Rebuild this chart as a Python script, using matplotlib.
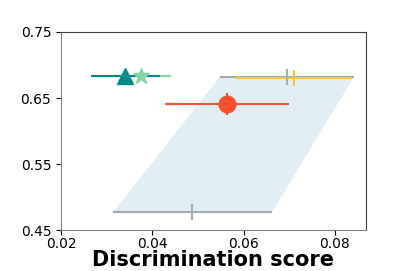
import numpy as np
import matplotlib.pyplot as plt

# discrimination score (x), second metric (y), x error, y error
labels = ["green", "teal", "gray_top", "yellow", "red", "gray_bottom"]
x_vals = [0.0376, 0.0341, 0.0695, 0.0710, 0.0563, 0.0488]
y_vals = [0.684, 0.684, 0.682, 0.680, 0.641, 0.477]
x_errs = [0.0066, 0.0076, 0.0147, 0.0128, 0.0136, 0.0174]
y_errs = [0.0, 0.0, 0.0, 0.0, 0.017, 0.0]

colors = ["#85d6a6", "#008b8b", "#a3acb4", "#f7c548", "#fc5130", "#a3acb4"]
markers = ["*", "^", "|", "|", "o", "|"]
sizes = [12, 12, 11, 12, 12, 12]

fig = plt.figure(figsize=(4.07, 2.71), dpi=100)
ax = fig.add_axes([0.150, 0.151, 0.749, 0.731])

# shaded region between the two gray bars
top, bot = 2, 5
poly_x = [x_vals[top] - x_errs[top], x_vals[top] + x_errs[top],
          x_vals[bot] + x_errs[bot], x_vals[bot] - x_errs[bot]]
poly_y = [y_vals[top], y_vals[top], y_vals[bot], y_vals[bot]]
ax.fill(poly_x, poly_y, color="#e1eef4", lw=0, zorder=1)

for i in range(len(labels)):
    marker_line, _, _ = ax.errorbar(x_vals[i], y_vals[i], xerr=x_errs[i],
                                    yerr=y_errs[i] if y_errs[i] else None,
                                    fmt=markers[i], color=colors[i], ms=sizes[i],
                                    mew=1.5 if markers[i] == "|" else 1,
                                    elinewidth=1.5, capsize=0, zorder=3)
    marker_line.set_zorder(4)

ax.set_xlim(0.02, 0.0868)
ax.set_ylim(0.45, 0.75)
ax.set_xticks([0.02, 0.04, 0.06, 0.08])
ax.set_yticks([0.45, 0.55, 0.65, 0.75])
ax.tick_params(labelsize=10)
ax.tick_params(axis="x", pad=1.5)

for side in ["left", "bottom"]:
    ax.spines[side].set_color("#808080")
for side in ["top", "right"]:
    ax.spines[side].set_color("#404040")

ax.set_xlabel("Discrimination score", fontsize=15, fontweight="bold", labelpad=-1)

fig.savefig("out.png", dpi=100)
